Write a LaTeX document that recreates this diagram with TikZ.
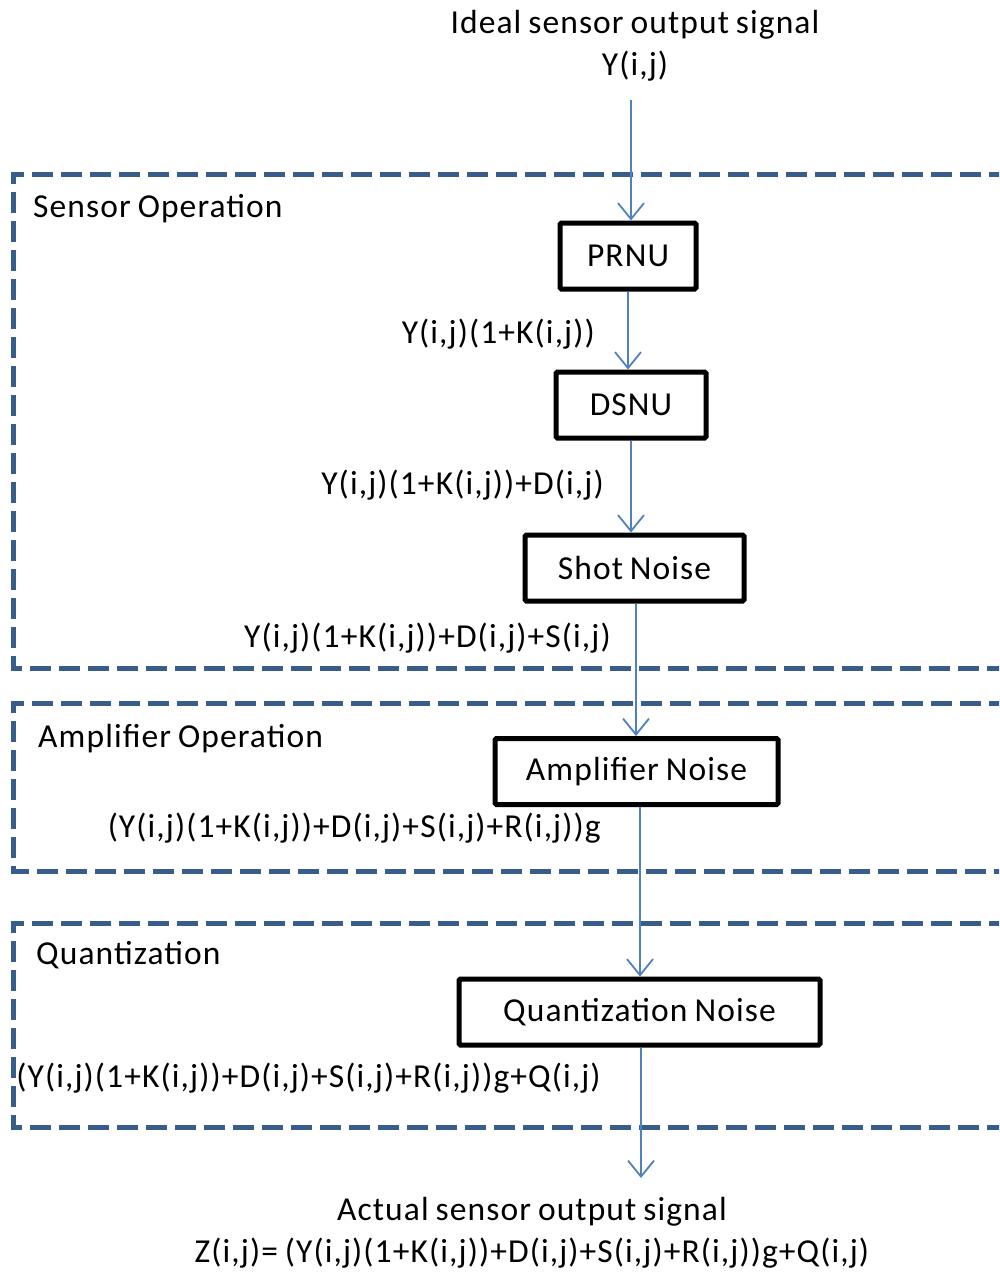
\documentclass[tikz,border=0pt]{standalone}
\usepackage{fontspec}
\setmainfont{Carlito}[LetterSpace=3.3,WordSpace=0.8]
\usetikzlibrary{arrows.meta}
\definecolor{arrowblue}{RGB}{79,129,189}
\definecolor{dashblue}{RGB}{56,93,138}
\begin{document}
\begin{tikzpicture}[x=1pt,y=-1pt,
        every node/.style={font=\fontsize{33.5}{42}\selectfont},
        block/.style={draw=black,line width=5pt,rounded corners=1.5pt,minimum height=66pt,inner sep=0pt},
        expr/.style={anchor=east,inner xsep=0pt},
        flow/.style={draw=arrowblue,line width=1.8pt,-{Straight Barb[length=16pt,width=26pt]}},
        stage/.style={draw=dashblue,line width=5pt,dash pattern=on 21pt off 8pt}]
                \useasboundingbox (0,0) rectangle (999,1274);
                \clip (0,0) rectangle (999,1274);

                \draw[stage] (1010,174) -- (13,174) -- (13,668) -- (1010,668);
                \draw[stage] (1010,703) -- (13,703) -- (13,871) -- (1010,871);
                \draw[stage] (1010,923) -- (13,923) -- (13,1127) -- (1010,1127);

                \node[anchor=west,inner xsep=0pt] (sensor) at (33,209) {Sensor Operation};
                \node[anchor=west,inner xsep=0pt] (amplifier) at (38,739) {Amplifier Operation};
                \node[anchor=west,inner xsep=0pt] (quant) at (36,955) {Quantization};

                \node[align=center] (ideal) at (635,46) {Ideal sensor output signal\\Y(i,j)};
                \coordinate (idealout) at (631,100);

                \node[block,minimum width=136pt] (prnu) at (628,256) {PRNU};
                \node[block,minimum width=150pt] (dsnu) at (631,405) {DSNU};
                \node[block,minimum width=219pt] (shot) at (634.5,568) {Shot Noise};
                \node[block,minimum width=283pt] (amp) at (636.5,771.5) {Amplifier Noise};
                \node[block,minimum width=361pt] (qnoise) at (639.5,1012) {Quantization Noise};

                \node[align=center] (actual) at (532,1233) {Actual sensor output signal\\Z(i,j)=\ (Y(i,j)(1+K(i,j))+D(i,j)+S(i,j)+R(i,j))g+Q(i,j)};
                \coordinate (actualin) at (641,1178);

                \draw[flow] (idealout) -- (idealout |- prnu.north);
                \draw[flow] (prnu.south) -- (prnu.south |- dsnu.north);
                \draw[flow] (dsnu.south) -- (dsnu.south |- shot.north);
                \draw[flow] ([xshift=1.5pt]shot.south) -- ([xshift=1.5pt]shot.south |- amp.north);
                \draw[flow] ([xshift=3.5pt]amp.south) -- ([xshift=3.5pt]amp.south |- qnoise.north);
                \draw[flow] ([xshift=1.5pt]qnoise.south) -- ([xshift=1.5pt]qnoise.south |- actualin);

                \node[expr] (yk) at (595,334) {Y(i,j)(1+K(i,j))};
                \node[expr] (ykd) at (604,485) {Y(i,j)(1+K(i,j))+D(i,j)};
                \node[expr] (ykds) at (611,638) {Y(i,j)(1+K(i,j))+D(i,j)+S(i,j)};
                \node[expr] (ykdsr) at (601,828) {(Y(i,j)(1+K(i,j))+D(i,j)+S(i,j)+R(i,j))g};
                \node[expr] (ykdsrq) at (601,1078) {(Y(i,j)(1+K(i,j))+D(i,j)+S(i,j)+R(i,j))g+Q(i,j)};
            \end{tikzpicture}
\end{document}
